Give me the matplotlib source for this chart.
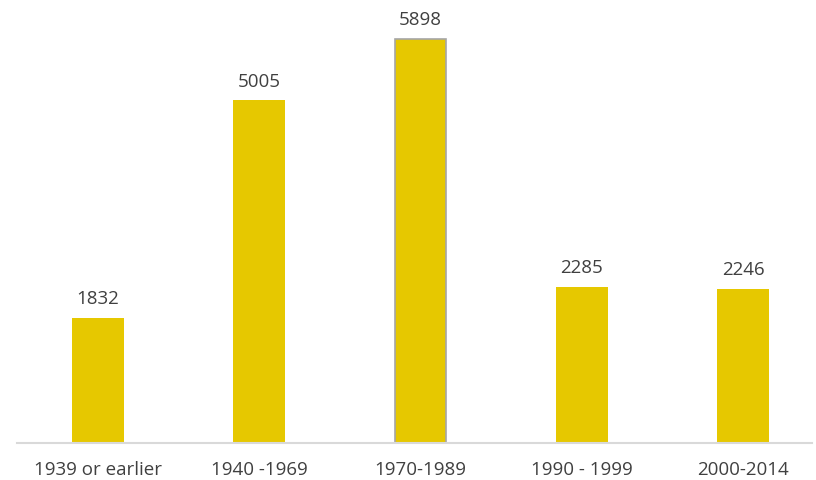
import matplotlib.pyplot as plt

# data
periods = ["1939 or earlier", "1940 -1969", "1970-1989", "1990 - 1999", "2000-2014"]
counts = [1832, 5005, 5898, 2285, 2246]

plt.rcParams['font.family'] = ['Open Sans', 'DejaVu Sans']

fig = plt.figure(figsize=(8.16, 4.8), dpi=100)
ax = fig.add_axes([17 / 816, 37 / 480, 795 / 816, 443 / 480])

x = range(len(periods))
bars = ax.bar(x, counts, width=0.32, color="#E6C800", zorder=2)
# the tallest bar has a thin grey outline in the original
bars[2].set_edgecolor("#A6A6A6")
bars[2].set_linewidth(1.2)

for xi, v in zip(x, counts):
    ax.annotate(str(v), (xi, v), xytext=(0, 7), textcoords="offset points",
                ha="center", va="bottom", fontsize=13.5, color="#404040")

ax.set_xlim(-0.502, 4.428)
ax.set_ylim(0, 6470)
ax.set_xticks(list(x))
ax.set_xticklabels(periods, fontsize=13.5, color="#404040")
ax.tick_params(axis="x", length=0, pad=13)
ax.set_yticks([])

for side in ["top", "right", "left"]:
    ax.spines[side].set_visible(False)
ax.spines["bottom"].set_color("#D9D9D9")
ax.spines["bottom"].set_linewidth(1.5)

plt.savefig("out.png", dpi=100)
plt.close()
